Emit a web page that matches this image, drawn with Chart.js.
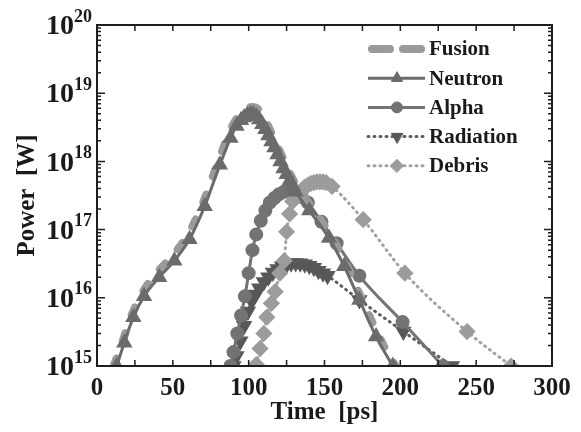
<!DOCTYPE html>
<html>
<head>
<meta charset="utf-8">
<script src="https://cdn.jsdelivr.net/npm/chart.js@4.4.1/dist/chart.umd.min.js"></script>
<style>
  html, body { margin: 0; padding: 0; background: #fff; }
  canvas { display: block; }
</style>
</head>
<body>
<canvas id="powerChart" width="581" height="432"></canvas>
<script>
// ── data (time in ps, power in W) ──
const fusionT = [11, 16, 22, 30, 40, 50, 60, 70, 80, 88, 92, 96, 100, 103, 106, 110, 115, 120, 125, 131, 140, 151, 162, 173, 185, 192, 197];
const fusionP = [1.0e15, 2.0e15, 5.0e15, 1.2e16, 2.4e16, 4.2e16, 8.5e16, 2.5e17, 1.0e18, 2.9e18, 4.2e18, 5.3e18, 6.1e18, 6.3e18, 5.9e18, 4.5e18, 2.6e18, 1.5e18, 8.5e17, 4.6e17, 2.4e17, 1.05e17, 4.0e16, 1.15e16, 3.0e15, 1.5e15, 1.0e15];

const neutronT = [13, 18, 24, 31, 41, 51, 61, 71, 81, 88, 92, 95, 97, 99, 101, 103, 105, 107, 109, 111, 113, 115, 117, 119, 121, 123, 125, 127, 129, 131, 140, 153, 163, 173, 184, 195];
const neutronP = [1.0e15, 2.2e15, 5.2e15, 1.05e16, 2.0e16, 3.5e16, 7.2e16, 2.2e17, 8.9e17, 2.2e18, 3.3e18, 4.0e18, 4.4e18, 4.7e18, 4.9e18, 4.9e18, 4.6e18, 4.1e18, 3.5e18, 2.95e18, 2.4e18, 1.95e18, 1.6e18, 1.26e18, 1.0e18, 7.9e17, 6.5e17, 5.2e17, 4.4e17, 3.6e17, 1.9e17, 7.5e16, 2.9e16, 9.3e15, 2.7e15, 1.0e15];

const alphaT = [88, 90, 92.5, 95, 97.5, 100, 102.5, 105, 108, 111, 114, 117, 120, 123, 126, 129, 132, 135, 139, 148, 158, 173, 201.5, 228];
const alphaP = [1.0e15, 1.6e15, 3.0e15, 5.5e15, 1.05e16, 2.3e16, 5.0e16, 8.5e16, 1.35e17, 1.9e17, 2.5e17, 2.9e17, 3.3e17, 3.55e17, 3.65e17, 3.6e17, 3.4e17, 3.0e17, 2.5e17, 1.3e17, 6.3e16, 2.1e16, 4.4e15, 1.0e15];

const radiationT = [90, 92, 94.5, 97, 99.5, 102, 104.5, 107, 110, 113, 116, 119, 122, 125, 128, 131, 134, 137, 140, 143, 146, 149, 152, 173, 202, 234];
const radiationP = [1.0e15, 1.4e15, 2.3e15, 3.9e15, 6.3e15, 8.9e15, 1.12e16, 1.38e16, 1.7e16, 2.0e16, 2.35e16, 2.65e16, 2.9e16, 3.05e16, 3.2e16, 3.25e16, 3.2e16, 3.1e16, 2.95e16, 2.75e16, 2.5e16, 2.3e16, 2.1e16, 9.3e15, 3.2e15, 1.0e15];

const debrisT = [105, 107.5, 110, 112, 115, 117.5, 120.5, 123.5, 125, 127, 129, 131, 133, 135, 137, 139, 141, 143, 145, 147, 149, 151, 155, 175.5, 203, 244, 273];
const debrisP = [1.05e15, 1.8e15, 3.0e15, 5.2e15, 8.3e15, 1.23e16, 2.3e16, 3.5e16, 9.3e16, 1.7e17, 2.6e17, 3.0e17, 3.4e17, 3.8e17, 4.2e17, 4.5e17, 4.75e17, 4.9e17, 5.0e17, 5.0e17, 5.0e17, 4.9e17, 4.3e17, 1.4e17, 2.3e16, 3.2e15, 1.0e15];

const yTickValues    = [1e15, 1e16, 1e17, 1e18, 1e19, 1e20];
const yTickBase      = '10';
const yTickExponents = ['15', '16', '17', '18', '19', '20'];

const pairs = (t, p) => t.map((x, i) => ({ x, y: p[i] }));
const SERIF = '"Liberation Serif", "Times New Roman", serif';

// ── cadre + graduations vers l'intérieur + étiquettes 10^n ──
const frameTicks = {
  id: 'frameTicks',
  afterDatasetsDraw(chart) {
    const { ctx, chartArea: a, scales: { x, y } } = chart;
    ctx.save();
    ctx.strokeStyle = '#1e1e1e';
    ctx.lineWidth = 1.5;
    ctx.beginPath();
    for (let t = 0; t <= 300; t += 25) {
      const px = x.getPixelForValue(t);
      ctx.moveTo(px, a.bottom); ctx.lineTo(px, a.bottom - 6);
      ctx.moveTo(px, a.top);    ctx.lineTo(px, a.top + 6);
    }
    for (let e = 15; e <= 20; e++) {
      for (let m = 1; m < 10; m++) {
        if (e === 20 && m > 1) break;
        const py = y.getPixelForValue(m * Math.pow(10, e));
        const len = m === 1 ? 8 : 4;
        ctx.moveTo(a.left, py);  ctx.lineTo(a.left + len, py);
        ctx.moveTo(a.right, py); ctx.lineTo(a.right - len, py);
      }
    }
    ctx.stroke();
    ctx.lineWidth = 2;
    ctx.strokeRect(a.left, a.top, a.right - a.left, a.bottom - a.top);

    // étiquettes de l'axe y avec exposant
    ctx.fillStyle = '#1a1a1a';
    ctx.textAlign = 'right';
    ctx.textBaseline = 'middle';
    yTickValues.forEach((v, i) => {
      const py = y.getPixelForValue(v);
      const right = a.left - 5;
      ctx.font = 'bold 18px ' + SERIF;
      const w = ctx.measureText(yTickExponents[i]).width;
      ctx.fillText(yTickExponents[i], right, py - 8);
      ctx.font = 'bold 28px ' + SERIF;
      ctx.fillText(yTickBase, right - w, py + 2);
    });
    ctx.restore();
  }
};

// ── légende dessinée à la main (ligne + symbole) ──
const legendBox = {
  id: 'legendBox',
  afterDraw(chart) {
    const ctx = chart.ctx;
    chart.data.datasets.forEach((ds, i) => {
      const y = 49 + i * 29.2;
      ctx.save();
      ctx.strokeStyle = ds.borderColor;
      ctx.lineWidth = ds.borderWidth;
      ctx.lineCap = ds.borderCapStyle || 'butt';
      ctx.setLineDash(ds.legendDash || ds.borderDash || []);
      ctx.beginPath();
      ctx.moveTo(ds.legendDash ? 372 : 368, y);
      ctx.lineTo(ds.legendDash ? 421 : 425, y);
      ctx.stroke();
      if (ds.pointRadius > 0) {
        ctx.setLineDash([]);
        ctx.fillStyle = ds.pointBackgroundColor;
        ctx.strokeStyle = ds.pointBorderColor;
        ctx.lineWidth = 1;
        Chart.helpers.drawPoint(ctx, {
          pointStyle: ds.pointStyle,
          radius: ds.pointRadius,
          rotation: ds.pointRotation || 0,
          borderWidth: 1
        }, 397, y);
      }
      ctx.fillStyle = '#1a1a1a';
      ctx.font = 'bold 21px ' + SERIF;
      ctx.textBaseline = 'middle';
      ctx.fillText(ds.label, 429, y + 1);
      ctx.restore();
    });
  }
};

const ctx = document.getElementById('powerChart').getContext('2d');

new Chart(ctx, {
  type: 'line',
  data: {
    datasets: [
      {
        label: 'Fusion',
        data: pairs(fusionT, fusionP),
        borderColor: '#9a9a9a',
        borderWidth: 8,
        borderDash: [8, 19],
        legendDash: [18, 13],
        borderCapStyle: 'round',
        pointRadius: 0,
        order: 2
      },
      {
        label: 'Neutron',
        data: pairs(neutronT, neutronP),
        borderColor: '#6b6b6b',
        borderWidth: 3,
        pointStyle: 'triangle',
        pointRadius: 6.5,
        pointBackgroundColor: '#6b6b6b',
        pointBorderColor: '#6b6b6b',
        order: 0
      },
      {
        label: 'Alpha',
        data: pairs(alphaT, alphaP),
        borderColor: '#737373',
        borderWidth: 3,
        pointStyle: 'circle',
        pointRadius: 5.5,
        pointBackgroundColor: '#737373',
        pointBorderColor: '#737373',
        order: 3
      },
      {
        label: 'Radiation',
        data: pairs(radiationT, radiationP),
        borderColor: '#5e5e5e',
        borderWidth: 3,
        borderDash: [1, 5],
        borderCapStyle: 'round',
        pointStyle: 'triangle',
        pointRotation: 180,
        pointRadius: 6.5,
        pointBackgroundColor: '#585858',
        pointBorderColor: '#585858',
        order: 4
      },
      {
        label: 'Debris',
        data: pairs(debrisT, debrisP),
        borderColor: '#a2a2a2',
        borderWidth: 3,
        borderDash: [1, 5],
        borderCapStyle: 'round',
        pointStyle: 'rectRot',
        pointRadius: 6.5,
        pointBackgroundColor: '#9c9c9c',
        pointBorderColor: '#9c9c9c',
        order: 1
      }
    ]
  },
  options: {
    responsive: false,
    animation: false,
    cubicInterpolationMode: 'monotone',
    layout: { padding: { top: 25, right: 29, left: 0, bottom: 0 } },
    plugins: {
      legend: { display: false },
      tooltip: { enabled: false }
    },
    scales: {
      x: {
        type: 'linear',
        min: 0,
        max: 300,
        grid: { display: false, drawTicks: false },
        border: { display: false },
        ticks: {
          stepSize: 50,
          padding: 8,
          color: '#1a1a1a',
          font: { family: SERIF, size: 25, weight: 'bold' }
        },
        title: {
          display: true,
          text: 'Time  [ps]',
          color: '#1a1a1a',
          padding: { top: 0 },
          font: { family: SERIF, size: 25, weight: 'bold' }
        },
        afterFit: s => { s.height = 66; }
      },
      y: {
        type: 'logarithmic',
        min: 1e15,
        max: 1e20,
        grid: { display: false, drawTicks: false },
        border: { display: false },
        afterBuildTicks: s => { s.ticks = yTickValues.map(v => ({ value: v })); },
        ticks: { display: false },
        title: {
          display: true,
          text: 'Power  [W]',
          color: '#1a1a1a',
          padding: { top: 13, bottom: 0 },
          font: { family: SERIF, size: 25, weight: 'bold' }
        },
        afterFit: s => { s.width = 97; }
      }
    }
  },
  plugins: [frameTicks, legendBox]
});
</script>
</body>
</html>
